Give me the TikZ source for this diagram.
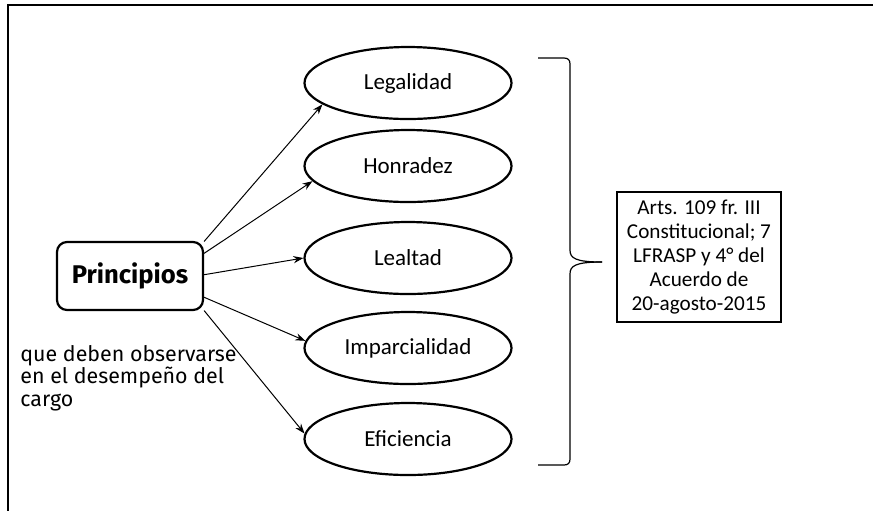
\documentclass[tikz,border=0pt]{standalone}
\usepackage{fontspec}
\setmainfont{Carlito}
\newfontfamily\fira{Fira Sans}
\usetikzlibrary{shapes.geometric,arrows.meta}

\begin{document}
\begin{tikzpicture}[x=0.5pt,y=-0.5pt,
  valor/.style={draw,ellipse,line width=1.1pt,inner sep=0pt,minimum width=103.5pt,minimum height=36pt,font=\fontsize{11.5}{13}\selectfont},
  flecha/.style={draw,-{Stealth[length=5pt,width=3.6pt]},line width=0.5pt}]

\useasboundingbox (0,0) rectangle (873,511);
\draw [line width=0.7pt] (873,5) -- (8,5) -- (8,511);

\node (prin) at (130,276) [draw,rectangle,rounded corners=5pt,line width=1.1pt,minimum width=73pt,minimum height=34pt,font=\fira\bfseries\fontsize{12.8}{15}\selectfont] {Principios};

\node (leg) at (408,83) [valor] {Legalidad};
\node (hon) at (408,166) [valor] {Honradez};
\node (leal) at (408,258) [valor] {Lealtad};
\node (imp) at (408,348) [valor] {Imparcialidad};
\node (efi) at (408,439) [valor] {Eficiencia};

\path (prin.25) edge [flecha] (leg.194) (prin.17) edge [flecha] (hon.189) (prin.1) edge [flecha] (leal.180) (prin.-16) edge [flecha] (imp.176) (prin.-25) edge [flecha] (efi.177);

\node (cap) at (20,345) [anchor=north west,align=left,inner sep=0pt,font=\fira\fontsize{10.7}{11.2}\selectfont] {que deben observarse\\en el desempeño del\\cargo};

% llave
\coordinate (punta) at (602,262);
\draw [line width=0.6pt] (538,58) -- (564,58) .. controls (568,58) and (570,60) .. (570,64) -- (570,250) .. controls (570,258) and (575,262) .. (punta);
\draw [line width=0.6pt] (punta) .. controls (575,262) and (570,266) .. (570,274) -- (570,459) .. controls (570,463) and (568,465) .. (564,465) -- (538,465);

\node (arts) at (699,257) [draw,line width=0.6pt,align=center,minimum width=82pt,minimum height=65pt,inner sep=2pt,font=\fontsize{10.6}{12}\selectfont] {Arts. 109 fr. III\\Constitucional; 7\\LFRASP y 4° del\\Acuerdo de\\20-agosto-2015};

\end{tikzpicture}
\end{document}
